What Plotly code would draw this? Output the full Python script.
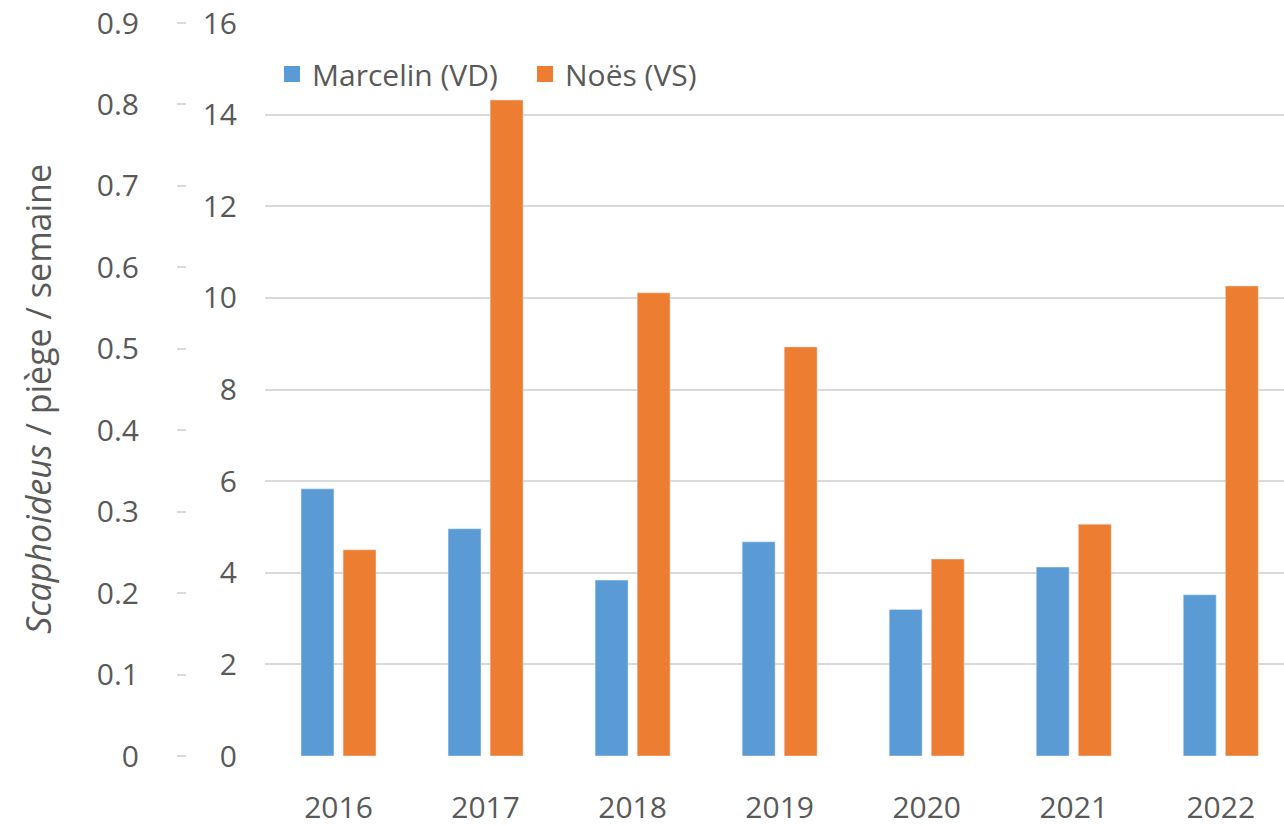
import plotly.graph_objects as go

years = ["2016", "2017", "2018", "2019", "2020", "2021", "2022"]
marcelin_vd = [0.328, 0.279, 0.216, 0.263, 0.180, 0.232, 0.198]
noes_vs = [4.50, 14.32, 10.11, 8.93, 4.30, 5.06, 10.26]

left_ticks = [0, 0.1, 0.2, 0.3, 0.4, 0.5, 0.6, 0.7, 0.8, 0.9]
inner_ticks = [0, 2, 4, 6, 8, 10, 12, 14, 16]

BLUE = "#5B9BD5"
ORANGE = "#ED7D31"
TXT = "#595959"
GRID = "#D9D9D9"
FONT = "Open Sans"
FS = 30

W, H = 1284, 826
fig = go.Figure()
fig.add_trace(go.Bar(x=years, y=marcelin_vd, name="Marcelin (VD)", marker_color=BLUE,
                     width=0.224, offset=-0.255, yaxis="y2", showlegend=False))
fig.add_trace(go.Bar(x=years, y=noes_vs, name="Noës (VS)", marker_color=ORANGE,
                     width=0.224, offset=0.031, yaxis="y", showlegend=False))
# legend entries with larger square symbols
fig.add_trace(go.Scatter(x=[None], y=[None], mode="markers", name="Marcelin (VD)",
                         marker=dict(symbol="square", size=16, color=BLUE)))
fig.add_trace(go.Scatter(x=[None], y=[None], mode="markers", name="Noës (VS)",
                         marker=dict(symbol="square", size=16, color=ORANGE)))

fig.update_layout(
    width=W, height=H,
    margin=dict(l=0, r=0, t=23, b=70),
    plot_bgcolor="white", paper_bgcolor="white",
    font=dict(family=FONT, size=FS, color=TXT),
    xaxis=dict(domain=[265 / W, 1], type="category", range=[-0.5, 6.43],
               showgrid=False, showline=False, zeroline=False, ticks="",
               ticklabelstandoff=31, tickfont=dict(size=FS, color=TXT)),
    yaxis=dict(range=[0, 16], tickvals=inner_ticks, showgrid=True, gridcolor=GRID,
               gridwidth=2, zeroline=False, showline=False, ticks="",
               ticklabelstandoff=27, ticklabeloverflow="allow",
               tickfont=dict(size=FS, color=TXT)),
    yaxis2=dict(range=[0, 0.9], tickvals=left_ticks, overlaying="y", side="left",
                anchor="free", position=186 / W, showgrid=False, zeroline=False,
                showline=False, ticks="outside", ticklen=9, tickcolor=GRID, tickwidth=2,
                ticklabelstandoff=32, ticklabeloverflow="allow",
                tickfont=dict(size=FS, color=TXT)),
    legend=dict(orientation="h", x=272 / W, xanchor="left", y=(756 - 74) / 733,
                yanchor="middle", font=dict(size=FS, color=TXT),
                bgcolor="rgba(0,0,0,0)", traceorder="normal", itemwidth=30,
                entrywidth=208, entrywidthmode="pixels"),
    showlegend=True,
)

fig.add_annotation(text="<i>Scaphoideus</i> / piège / semaine", textangle=-90,
                   xref="paper", yref="paper", x=38 / W, y=(756 - 399) / 733,
                   xanchor="center", yanchor="middle", showarrow=False,
                   font=dict(size=34, color=TXT, family=FONT))

fig.write_html("out.html", config={"displayModeBar": False},
               post_script="document.body.style.margin='0';document.body.style.overflow='hidden';")
